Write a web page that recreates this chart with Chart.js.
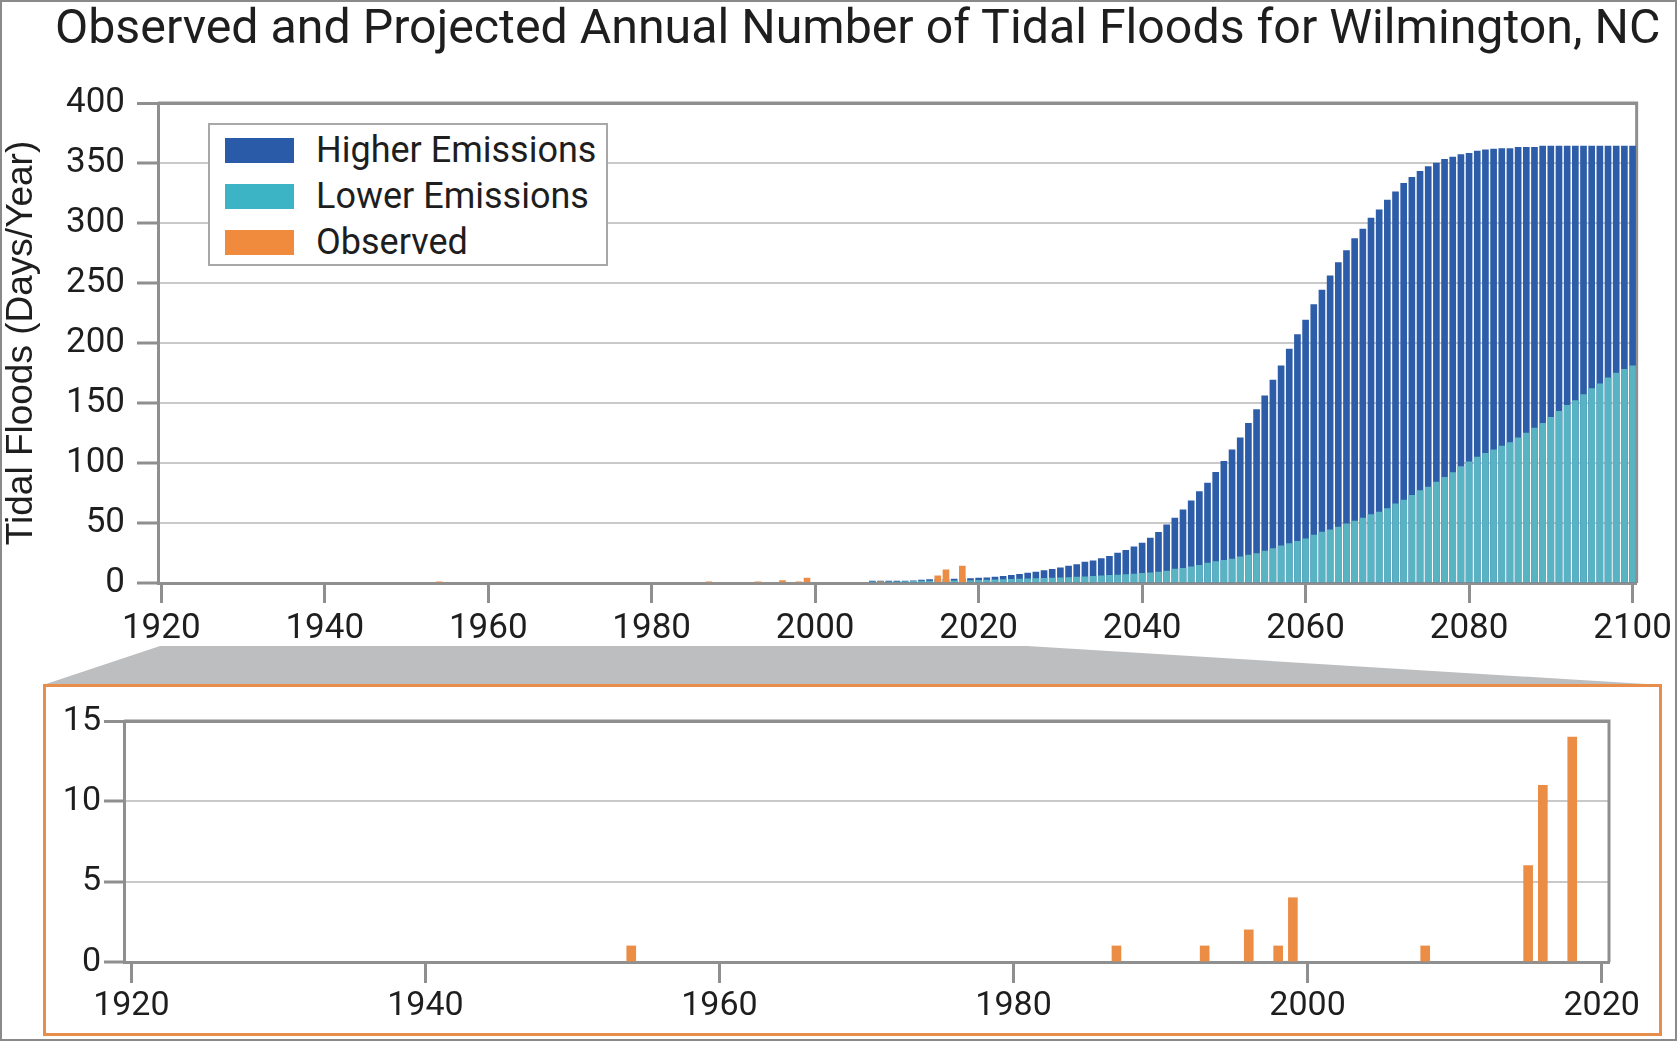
<!DOCTYPE html>
<html>
<head>
<meta charset="utf-8">
<title>Tidal Floods for Wilmington, NC</title>
<script src="https://cdn.jsdelivr.net/npm/chart.js@4.4.1/dist/chart.umd.min.js"></script>
<style>
  html, body { margin: 0; padding: 0; }
  body {
    width: 1677px; height: 1041px; position: relative; overflow: hidden;
    background: #fff; font-family: Roboto, sans-serif; color: #1e1e1e;
  }
  #outline {
    position: absolute; left: 0; top: 0; width: 1677px; height: 1041px;
    box-sizing: border-box; border: 2px solid #8a8a8a; pointer-events: none; z-index: 5;
  }
  #title {
    position: absolute; left: 55px; top: 3px; font-size: 48.3px; line-height: 48px;
    white-space: nowrap;
  }
  #main-chart { position: absolute; left: 0; top: 70px; }
  #connector { position: absolute; left: 0; top: 0; }
  #inset-frame {
    position: absolute; left: 43px; top: 684px; width: 1619px; height: 352px;
    box-sizing: border-box; border: 3px solid #e98d4a;
  }
  #inset-chart { position: absolute; left: 45px; top: 690px; }
  #legend {
    position: absolute; left: 208px; top: 123px; width: 400px; height: 143px;
    box-sizing: border-box; border: 2px solid #a8a8a8; background: #fff; z-index: 3;
  }
  .legend-row { position: absolute; left: 15px; height: 46px; display: flex; align-items: center; }
  .legend-swatch { width: 69px; height: 25px; margin-right: 22px; }
  .legend-text { font-size: 36px; line-height: 46px; white-space: nowrap; }
</style>
</head>
<body>
<div id="title">Observed and Projected Annual Number of Tidal Floods for Wilmington, NC</div>
<svg id="connector" width="1677" height="1041">
  <polygon points="160,646 1027,646 1662,685 43,685" fill="#bdbec0"></polygon>
</svg>
<canvas id="main-chart" width="1677" height="590"></canvas>
<div id="legend"></div>
<div id="inset-frame"></div>
<canvas id="inset-chart" width="1615" height="345"></canvas>
<div id="outline"></div>

<script>
'use strict';

// observed annual tidal floods (days/year)
const observedYears = [1954, 1987, 1993, 1996, 1998, 1999, 2008, 2015, 2016, 2018];
const observedFloods = [1, 1, 1, 2, 1, 4, 1, 6, 11, 14];

// projections, one value per year from 2007 to 2100
const projStartYear = 2007;
const higherFloods = [
  1.5, 1.5, 1.5, 1.5, 1.5, 1.8, 2.5, 2.8, 3, 3.1,
  3.3, 3.5, 3.6, 4, 4.4, 5, 5.5, 6.3, 7.2, 8.3,
  9.2, 10.3, 11.4, 12.6, 14, 15.3, 17.4, 18.4, 20.3, 22.3,
  25, 27.3, 30.2, 33.2, 37.5, 42.3, 48.5, 54.2, 61, 68.5,
  76.2, 83.3, 92.3, 101.4, 111, 121, 133, 144.5, 156, 169,
  181, 195, 207, 219, 232, 244, 256, 267, 277, 287,
  295, 304, 311, 319, 326, 333, 338, 343, 347, 350,
  353, 355, 357, 358, 360, 361, 361.5, 362, 362, 363,
  363, 363, 364, 364, 364, 364, 364, 364, 364, 364,
  364, 364, 364, 364
];
const lowerFloods = [
  1, 1, 1, 1, 1.2, 1.3, 1.5, 1.6, 1.7, 1.8,
  1.9, 2, 2.1, 2.2, 2.4, 2.6, 2.8, 3, 3.2, 3.4,
  3.6, 3.8, 4, 4.3, 4.6, 4.9, 5.2, 5.5, 5.9, 6.3,
  6.7, 7.1, 7.5, 8, 8.5, 9.1, 10, 11.5, 12.2, 13.5,
  14.8, 16.5, 17.8, 18.8, 20, 21.8, 23.2, 24.5, 26.5, 28.7,
  30.9, 32.8, 34.7, 36.9, 40, 42.4, 44.4, 46.6, 49.3, 51.5,
  54, 57, 59, 62, 66, 69, 73, 77, 80, 84,
  88, 92, 97, 101, 105, 108, 111, 114, 117, 121,
  125, 129, 133, 138, 143, 148, 152, 157, 162, 166,
  171, 175, 178, 181
];

const mainXTicks = [1920, 1940, 1960, 1980, 2000, 2020, 2040, 2060, 2080, 2100];
const mainYTicks = [0, 50, 100, 150, 200, 250, 300, 350, 400];
const insetXTicks = [1920, 1940, 1960, 1980, 2000, 2020];
const insetYTicks = [0, 5, 10, 15];

const legendLabels = ['Higher Emissions', 'Lower Emissions', 'Observed'];
const legendColors = ['#2a5ba8', '#3db4c6', '#f08b3e'];

const higherColor = '#2d5da8';
const lowerColor = '#58b3c2';
const observedColor = '#ec8d45';
const axisColor = '#8f8f8f';
const gridColor = '#c9c9c9';
const textColor = '#1e1e1e';


function toPoints(years, values) {
  let points = [];
  for (let i = 0; i < values.length; i++) {
    points.push({ x: years[i], y: values[i] });
  }
  return points;
}

function projYears() {
  let years = [];
  for (let i = 0; i < higherFloods.length; i++) {
    years.push(projStartYear + i);
  }
  return years;
}

function setTicks(list) {
  return function (scale) {
    scale.ticks = list.map(v => ({ value: v }));
  };
}

// top and right edge of the plot box
const frameBorder = {
  id: 'frameBorder',
  beforeDatasetsDraw(chart) {
    const a = chart.chartArea;
    const ctx = chart.ctx;
    ctx.save();
    ctx.strokeStyle = axisColor;
    ctx.lineWidth = 3;
    ctx.beginPath();
    ctx.moveTo(a.left, a.top);
    ctx.lineTo(a.right, a.top);
    ctx.lineTo(a.right, a.bottom);
    ctx.stroke();
    ctx.restore();
  }
};

function renderLegend() {
  let legend = document.getElementById('legend');
  for (let i = 0; i < legendLabels.length; i++) {
    let row = document.createElement('div');
    row.className = 'legend-row';
    row.style.top = (2 + i * 46) + 'px';
    let swatch = document.createElement('div');
    swatch.className = 'legend-swatch';
    swatch.style.background = legendColors[i];
    let text = document.createElement('div');
    text.className = 'legend-text';
    text.textContent = legendLabels[i];
    row.appendChild(swatch);
    row.appendChild(text);
    legend.appendChild(row);
  }
}

function renderMainChart() {
  const years = projYears();
  const ctx = document.getElementById('main-chart').getContext('2d');

  new Chart(ctx, {
    type: 'bar',
    data: {
      datasets: [
        { label: 'Observed', data: toPoints(observedYears, observedFloods), backgroundColor: observedColor, barThickness: 6, grouped: false },
        { label: 'Lower Emissions', data: toPoints(years, lowerFloods), backgroundColor: lowerColor, barThickness: 6, grouped: false },
        { label: 'Higher Emissions', data: toPoints(years, higherFloods), backgroundColor: higherColor, barThickness: 6, grouped: false }
      ]
    },
    options: {
      responsive: false,
      animation: false,
      layout: { padding: { top: 26.5, right: 36, bottom: 0, left: 0 } },
      plugins: { legend: { display: false }, tooltip: { enabled: false } },
      scales: {
        x: {
          type: 'linear',
          min: 1919.6,
          max: 2100.5,
          offset: false,
          afterBuildTicks: setTicks(mainXTicks),
          afterFit: function (scale) { scale.height = 77; },
          grid: { offset: false, drawOnChartArea: false, tickLength: 20, tickWidth: 3, tickColor: axisColor },
          border: { color: axisColor, width: 3 },
          ticks: { font: { family: 'Roboto', size: 35 }, color: textColor, padding: 5, maxRotation: 0, callback: v => String(v) }
        },
        y: {
          min: 0,
          max: 400,
          afterBuildTicks: setTicks(mainYTicks),
          afterFit: function (scale) { scale.width = 158; },
          grid: {
            color: c => c.tick.value === 400 ? axisColor : gridColor,
            lineWidth: c => c.tick.value === 400 ? 3 : 2,
            tickLength: 21, tickWidth: 3, tickColor: axisColor
          },
          border: { color: axisColor, width: 3 },
          ticks: { font: { family: 'Roboto', size: 35 }, color: textColor, padding: 12, callback: v => String(v) },
          title: {
            display: true,
            text: 'Tidal Floods (Days/Year)',
            font: { family: '"Liberation Sans", Arial, sans-serif', size: 37 },
            color: textColor,
            padding: 0
          }
        }
      }
    },
    plugins: [frameBorder]
  });
}

function renderInsetChart() {
  const ctx = document.getElementById('inset-chart').getContext('2d');

  new Chart(ctx, {
    type: 'bar',
    data: {
      datasets: [
        { label: 'Observed', data: toPoints(observedYears, observedFloods), backgroundColor: observedColor, barThickness: 9 }
      ]
    },
    options: {
      responsive: false,
      animation: false,
      layout: { padding: { top: 31, right: 51, bottom: 0, left: 0 } },
      plugins: { legend: { display: false }, tooltip: { enabled: false } },
      scales: {
        x: {
          type: 'linear',
          min: 1919.5,
          max: 2020.5,
          offset: false,
          afterBuildTicks: setTicks(insetXTicks),
          afterFit: function (scale) { scale.height = 73; },
          grid: { offset: false, drawOnChartArea: false, tickLength: 21, tickWidth: 3, tickColor: axisColor },
          border: { color: axisColor, width: 3 },
          ticks: { font: { family: 'Roboto', size: 34 }, color: textColor, padding: 3, maxRotation: 0, callback: v => String(v) }
        },
        y: {
          min: 0,
          max: 15,
          afterBuildTicks: setTicks(insetYTicks),
          afterFit: function (scale) { scale.width = 79; },
          grid: {
            color: c => c.tick.value === 15 ? axisColor : gridColor,
            lineWidth: c => c.tick.value === 15 ? 3 : 2,
            tickLength: 20, tickWidth: 3, tickColor: axisColor
          },
          border: { color: axisColor, width: 3 },
          ticks: { font: { family: 'Roboto', size: 34 }, color: textColor, padding: 3, callback: v => String(v) }
        }
      }
    },
    plugins: [frameBorder]
  });
}

renderLegend();
renderMainChart();
renderInsetChart();
</script>
</body>
</html>
